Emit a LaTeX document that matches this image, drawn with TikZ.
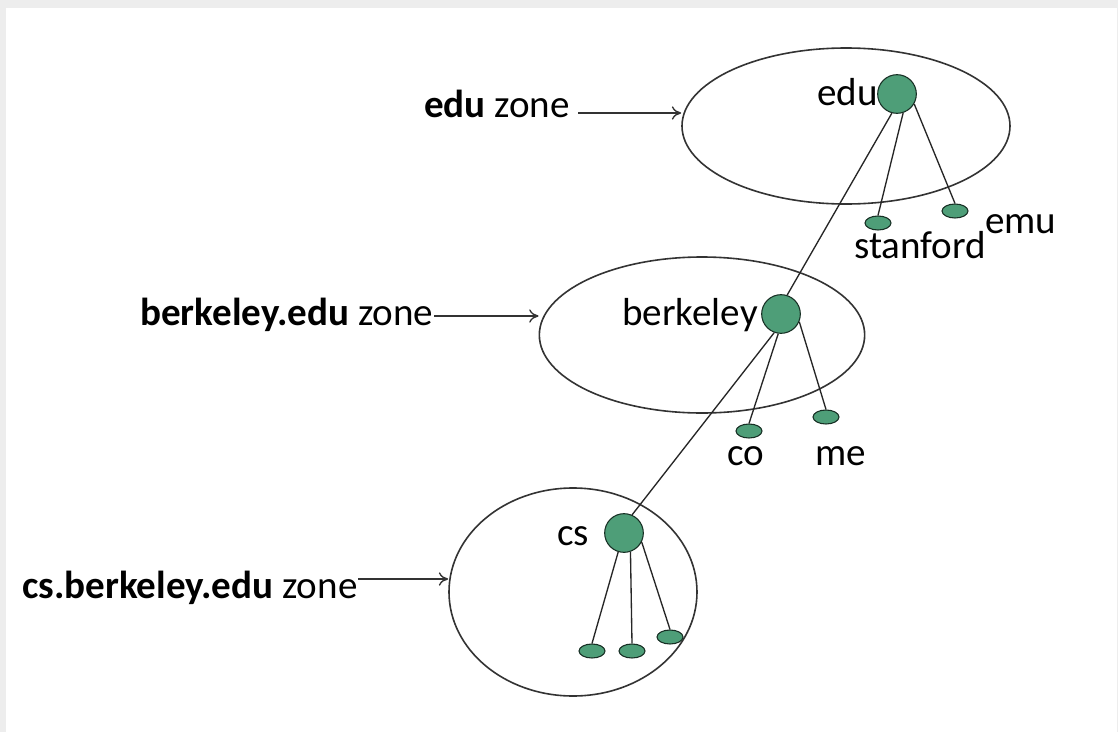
\documentclass[tikz,border=0pt]{standalone}
\usepackage{fontspec}
\setmainfont{Carlito}
\usetikzlibrary{shapes.geometric,arrows.meta}
\definecolor{bggray}{HTML}{EDEDED}
\definecolor{dotgreen}{HTML}{4E9E78}
\definecolor{linegray}{HTML}{333333}
\begin{document}
\begin{tikzpicture}[x=0.75pt,y=-0.75pt,
 zone/.style={ellipse,draw=linegray,line width=1.2pt,inner sep=0pt},
 big/.style={circle,fill=dotgreen,draw=black!70!dotgreen,line width=0.8pt,minimum size=29pt,inner sep=0pt},
 leaf/.style={ellipse,fill=dotgreen,draw=black!70!dotgreen,line width=0.8pt,minimum width=19.5pt,minimum height=10.5pt,inner sep=0pt},
 link/.style={draw=black!85,line width=1pt},
 arr/.style={draw=black!80,line width=1pt,-{To[length=7pt,width=10pt]}},
 lbl/.style={font=\fontsize{29.3}{35}\selectfont,inner sep=0pt,anchor=base west},
]
\fill[bggray] (0,0) rectangle (1118,732);
\fill[white] (6,8) rectangle (1117,732);
\useasboundingbox (0,0) rectangle (1118,732);

% zones
\node[zone,minimum width=246pt,minimum height=117pt] (edz) at (846,126) {};
\node[zone,minimum width=244pt,minimum height=117pt] (bkz) at (702,335) {};
\node[zone,minimum width=186pt,minimum height=156pt] (csz) at (573,592) {};

% tree nodes
\node[big] (edu) at (897,94) {};
\node[big] (bk) at (781,314) {};
\node[big] (cs) at (624,533) {};
\node[leaf] (stan) at (878,223) {};
\node[leaf] (emu) at (955,211) {};
\node[leaf] (co) at (749,431) {};
\node[leaf] (me) at (826,417) {};
\node[leaf] (c1) at (592,651) {};
\node[leaf] (c2) at (632,651) {};
\node[leaf] (c3) at (670,637) {};

% node labels
\node[lbl] (tedu) at (817,105) {edu};
\node[lbl] (tbk) at (622,325) {berkeley};
\node[lbl] (tcs) at (557,545) {cs};
\node[lbl] (tstan) at (854,258) {stanford};
\node[lbl] (temu) at (985,233) {emu};
\node[lbl] (tco) at (727,465) {co};
\node[lbl] (tme) at (815,465) {me};

% zone labels
\node[lbl] (zedu) at (424,117) {\textbf{edu} zone};
\node[lbl] (zbk) at (140,325) {\textbf{berkeley.edu} zone};
\node[lbl] (zcs) at (22,598) {\textbf{cs.berkeley.edu} zone};

% arrows
\coordinate (a1) at (578,113);
\coordinate (a2) at (434,316);
\coordinate (a3) at (358,579);
\draw[arr] (a1) -- (a1 -| edz.west);
\draw[arr] (a2) -- (a2 -| bkz.west);
\draw[arr] (a3) -- (a3 -| csz.west);

% links
\draw[link] (edu.255) -- (bk.72);
\draw[link] (edu.288) -- (stan.north);
\draw[link] (edu.330) -- (emu.north);
\draw[link] (bk.250) -- (cs.66);
\draw[link] (bk.262) -- (co.north);
\draw[link] (bk.337) -- (me.north);
\draw[link] (cs.253) -- (c1.north);
\draw[link] (cs.289) -- (c2.north);
\draw[link] (cs.333) -- (c3.north);
\end{tikzpicture}
\end{document}
